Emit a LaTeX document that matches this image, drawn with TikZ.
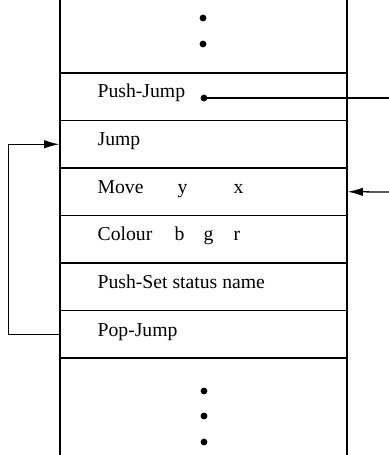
\documentclass[tikz,border=0pt]{standalone}
\usepackage{fontspec}
\setmainfont{Liberation Serif}
\usetikzlibrary{arrows.meta}

\tikzset{
  slot/.style={draw, minimum width=7.175cm, minimum height=1.1875cm, inner sep=0pt},
  word/.style={anchor=base west, inner sep=0pt, font=\fontsize{14}{16}\selectfont},
  blob/.style={circle, fill, inner sep=0pt, minimum size=0.17cm},
  into/.style={-{Latex[length=0.38cm,width=0.21cm]}}
}

\begin{document}
\begin{tikzpicture}[x=0.025cm, y=-0.025cm, line width=0.9pt]
        \useasboundingbox (0,0) rectangle (389,455);
        % the two sides of the list
        \draw (60,0) -- (60,455);
        \draw (347,0) -- (347,455);
        \node[blob] (top1) at (203,18) {};
        \node[blob] (top2) at (203,44) {};
        % one slot per command
        \node[slot] (pushjump) at (203.5,96.75) {};
        \node[slot] (jump) at (203.5,144.25) {};
        \node[slot] (move) at (203.5,191.75) {};
        \node[slot] (colour) at (203.5,239.25) {};
        \node[slot] (pushset) at (203.5,286.75) {};
        \node[slot] (popjump) at (203.5,334.25) {};
        \node[word] (tpushjump) at (97,97) {Push-Jump};
        \node[word] (tjump) at (97,145) {Jump};
        \node[word] (tmove) at (97,193) {Move};
        \node[word] (tmovey) at (177,193) {y};
        \node[word] (tmovex) at (233,193) {x};
        \node[word] (tcolour) at (97,240) {Colour};
        \node[word] (tcolb) at (174,240) {b};
        \node[word] (tcolg) at (203,240) {g};
        \node[word] (tcolr) at (233,240) {r};
        \node[word] (tpushset) at (97,288) {Push-Set status name};
        \node[word] (tpopjump) at (97,336) {Pop-Jump};
        \node[blob] (bot1) at (204,391) {};
        \node[blob] (bot2) at (204,416) {};
        \node[blob] (bot3) at (204,442) {};
        % links
        \node[blob] (pjdot) at (204,98) {};
        \coordinate (pjout) at (389,98);
        \draw (pjdot.center) -- (pjout);
        \coordinate (movein) at (389,192);
        \draw[into] (movein) -- (move.east);
        \draw[into] (popjump.west) -- ++(-51,0) |- (jump.west);
\end{tikzpicture}
\end{document}
